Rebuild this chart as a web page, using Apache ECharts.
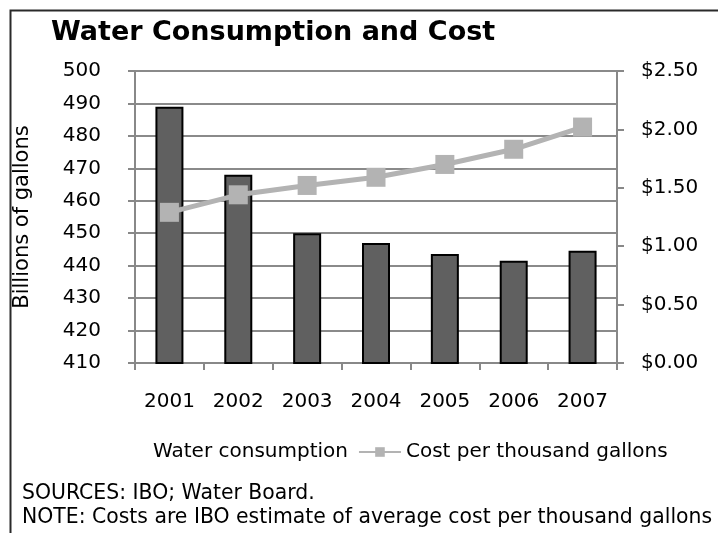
<!DOCTYPE html>
<html><head><meta charset="utf-8">
<script src="https://cdn.jsdelivr.net/npm/echarts@6/dist/echarts.min.js"></script>
<style>html,body{margin:0;padding:0;background:#fff}#c{width:718px;height:533px}</style>
</head><body><div id="c"></div>
<script>
const years = ['2001','2002','2003','2004','2005','2006','2007'];
const consumption = [489, 468, 450, 447, 443.6, 441.5, 444.6];
const costPerThousand = [1.29, 1.44, 1.52, 1.59, 1.70, 1.83, 2.02];
const leftTicks = {min: 410, max: 500, interval: 10};
const rightTicks = {min: 0, max: 2.5, interval: 0.5};

const FONT = 'DejaVu Sans';
const chart = echarts.init(document.getElementById('c'), null, {renderer: 'canvas'});
chart.setOption({
  animation: false,
  textStyle: {fontFamily: FONT, color: '#000'},
  title: {
    text: 'Water Consumption and Cost', left: 46, top: 14,
    textStyle: {fontFamily: FONT, fontWeight: 'bold', fontSize: 27, color: '#000'}
  },
  graphic: [
    {type: 'rect', left: 8, top: 8, shape: {width: 760, height: 600},
     style: {fill: 'none', stroke: '#2a2a2a', lineWidth: 2}, silent: true},
    {type: 'text', left: 22, top: 484, style: {text: 'SOURCES: IBO; Water Board.', fontFamily: FONT, fontSize: 20.4, fill: '#000'}},
    {type: 'text', left: 22, top: 508, style: {text: 'NOTE: Costs are IBO estimate of average cost per thousand gallons', fontFamily: FONT, fontSize: 20.4, fill: '#000'}}
  ],
  legend: {
    top: 437, left: 100, padding: 5,
    itemGap: 10, itemWidth: 42, itemHeight: 12,
    textStyle: {fontFamily: FONT, fontSize: 20, color: '#000'},
    data: [
      {name: 'Water consumption', icon: 'rect', itemStyle: {opacity: 0}},
      {name: 'Cost per thousand gallons'}
    ]
  },
  grid: {left: 135, right: 101, top: 71, bottom: 170, containLabel: false, outerBoundsMode: 'none'},
  xAxis: {
    type: 'category', data: years, boundaryGap: true,
    axisLine: {lineStyle: {color: '#888', width: 2}},
    axisTick: {show: true, length: 7, lineStyle: {color: '#888', width: 2}},
    axisLabel: {fontFamily: FONT, fontSize: 20, color: '#000', margin: 29}
  },
  yAxis: [
    {
      type: 'value', min: leftTicks.min, max: leftTicks.max, interval: leftTicks.interval,
      name: 'Billions of gallons', nameLocation: 'middle', nameGap: 102, nameRotate: 90,
      nameTextStyle: {fontFamily: FONT, fontSize: 21, color: '#000'},
      axisLine: {show: true, lineStyle: {color: '#888', width: 2}},
      axisTick: {show: true, length: 7, lineStyle: {color: '#888', width: 2}},
      axisLabel: {fontFamily: FONT, fontSize: 20, color: '#000', margin: 34},
      splitLine: {show: true, lineStyle: {color: '#8a8a8a', width: 2}}
    },
    {
      type: 'value', position: 'right', min: rightTicks.min, max: rightTicks.max, interval: rightTicks.interval,
      axisLine: {show: true, lineStyle: {color: '#888', width: 2}},
      axisTick: {show: true, length: 7, lineStyle: {color: '#888', width: 2}},
      axisLabel: {fontFamily: FONT, fontSize: 20, color: '#000', margin: 24,
        formatter: v => '$' + v.toFixed(2)},
      splitLine: {show: false}
    }
  ],
  series: [
    {
      name: 'Water consumption', type: 'bar', yAxisIndex: 0, data: consumption,
      barWidth: 28,
      itemStyle: {color: '#606060', borderColor: '#000', borderWidth: 2}
    },
    {
      name: 'Cost per thousand gallons', type: 'line', yAxisIndex: 1, data: costPerThousand,
      symbol: 'rect', symbolSize: 19,
      lineStyle: {color: '#b3b3b3', width: 5},
      itemStyle: {color: '#b3b3b3'}
    }
  ]
});
</script></body></html>
